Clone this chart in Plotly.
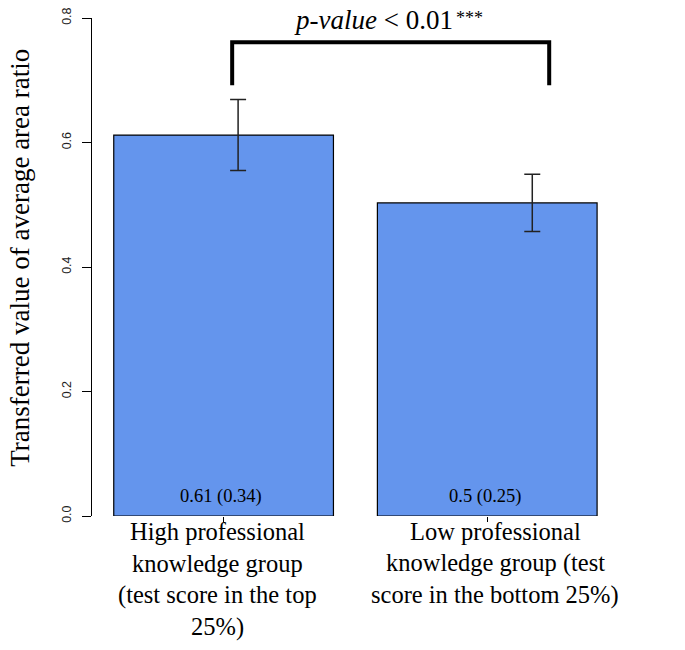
import plotly.graph_objects as go

# data
groups = ["High professional knowledge group (test score in the top 25%)",
          "Low professional knowledge group (test score in the bottom 25%)"]
means = [0.612, 0.503]
errors = [0.057, 0.046]
bar_text = ["0.61 (0.34)", "0.5 (0.25)"]
label_lines = [["High professional", "knowledge group", "(test score in the top", "25%)"],
               ["Low professional", "knowledge group (test", "score in the bottom 25%)"]]
y_ticks = [0.0, 0.2, 0.4, 0.6, 0.8]

bar_x = [0.7, 1.9]
err_x = [0.766, 2.105]
label_x = [0.672, 1.936]
serif = "Liberation Serif, Times New Roman, serif"

fig = go.Figure()
fig.add_trace(go.Bar(x=bar_x, y=means, width=1.0,
                     marker=dict(color="#6495ED", line=dict(color="black", width=1.2)),
                     showlegend=False, hoverinfo="skip"))

fig.add_trace(go.Scatter(x=err_x, y=means, mode="markers",
                         marker=dict(size=0.1, color="rgba(0,0,0,0)"),
                         error_y=dict(type="data", array=errors, visible=True,
                                      color="#222222", thickness=1.5, width=8),
                         showlegend=False, hoverinfo="skip"))

# significance bracket
fig.add_trace(go.Scatter(x=[0.739, 0.739, 2.182, 2.182], y=[0.692, 0.761, 0.761, 0.692],
                         mode="lines", line=dict(color="black", width=4),
                         showlegend=False, hoverinfo="skip"))
fig.add_annotation(x=1.381, y=0.796, xref="x", yref="y", showarrow=False,
                   xanchor="center", yanchor="middle",
                   text="<i>p-value</i> < 0.01",
                   font=dict(family=serif, size=27, color="black"))
fig.add_annotation(x=1.818, y=1.0, xref="x", yref="paper", showarrow=False,
                   xanchor="center", yanchor="middle", text="***",
                   font=dict(family=serif, size=18, color="black"))

for x, t in zip(bar_x, bar_text):
    fig.add_annotation(x=x - 0.01, y=0.032, xref="x", yref="y", showarrow=False,
                       text=t, font=dict(family=serif, size=18.5, color="black"))

# category labels, one line each (below the axis, so paper coords)
line_y = [-0.0315, -0.0952, -0.1586, -0.2223]
for x, lines in zip(label_x, label_lines):
    for yy, t in zip(line_y, lines):
        fig.add_annotation(x=x, y=yy, xref="x", yref="paper", showarrow=False,
                           xanchor="center", yanchor="middle",
                           text=t, font=dict(family=serif, size=24.5, color="black"))

fig.add_annotation(x=-0.126, y=0.415, xref="paper", yref="y", showarrow=False,
                   xanchor="center", yanchor="middle",
                   text="Transferred value of average area ratio", textangle=-90,
                   font=dict(family=serif, size=27, color="black"))

fig.update_layout(
    width=677, height=642,
    margin=dict(l=84, r=22, t=10, b=134),
    plot_bgcolor="white", paper_bgcolor="white",
    xaxis=dict(range=[0.101, 2.7], showgrid=False, zeroline=False, showline=False,
               tickvals=bar_x, ticktext=["", ""], ticks="outside", ticklen=5,
               tickcolor="black", tickwidth=1, automargin=False),
    yaxis=dict(range=[0, 0.8], showgrid=False, zeroline=False, showline=True,
               linecolor="black", linewidth=1, ticks="outside", ticklen=9,
               tickcolor="black", tickvals=y_ticks, automargin=False,
               ticktext=["0.0", "0.2", "0.4", "0.6", "0.8"], tickangle=-90,
               ticklabelstandoff=6, ticklabeloverflow="allow",
               tickfont=dict(family="Liberation Sans, Arial, sans-serif", size=12.5, color="#222222")),
)

fig.write_html("out.html")
